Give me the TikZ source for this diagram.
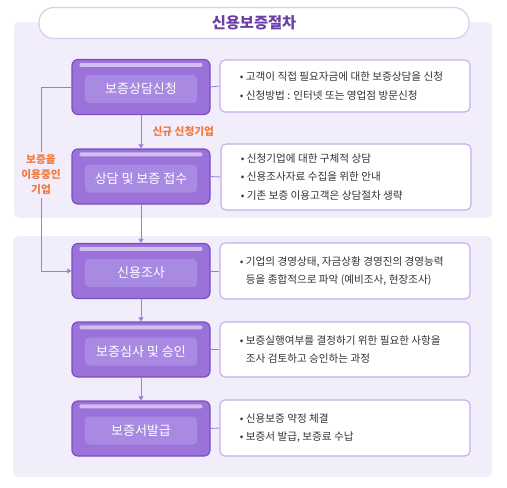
\documentclass[tikz,border=0pt]{standalone}
\usepackage{fontspec}
\setmainfont{Noto Sans CJK KR}
\usetikzlibrary{arrows.meta,calc}
\definecolor{panel}{HTML}{F2EDFB}
\definecolor{pillline}{HTML}{D9CCF2}
\definecolor{titlec}{HTML}{6B3FA8}
\definecolor{boxedge}{HTML}{7B4FC2}
\definecolor{boxfill}{HTML}{9A72DA}
\definecolor{boxinner}{HTML}{A98AE2}
\definecolor{rline}{HTML}{C4ADEB}
\definecolor{conn}{HTML}{9C7FD4}
\definecolor{orangec}{HTML}{F07A3C}
\definecolor{txt}{HTML}{333333}
\tikzset{
  stepbox/.style={draw=boxedge, line width=1.2pt, fill=boxfill, rounded corners=6pt, minimum width=138pt, minimum height=55pt, inner sep=0pt},
  innerbox/.style={fill=boxinner, rounded corners=4pt, minimum width=112pt, minimum height=28pt, inner sep=0pt, text=white, font=\fontsize{13}{15}\selectfont},
  descbox/.style={draw=rline, line width=1.1pt, fill=white, rounded corners=5pt, minimum width=250pt, minimum height=52pt, inner sep=0pt},
  desc/.style={anchor=west, text=txt, font=\fontsize{10.6}{18.5}\selectfont, align=left},
  conline/.style={draw=conn, line width=0.8pt},
  arr/.style={conline, -{Triangle[width=5pt,length=4pt]}},
  olabel/.style={text=orangec, font=\bfseries\fontsize{10.7}{13}\selectfont, align=center}
}
\begin{document}
\begin{tikzpicture}[x=1pt,y=-1pt]
\useasboundingbox (0,0) rectangle (507,488);
% panels
\fill[panel, rounded corners=6pt] (14,22) rectangle (492,218);
\fill[panel, rounded corners=6pt] (13,236) rectangle (492,477);
% title
\node[draw=pillline, line width=1.2pt, fill=white, rounded corners=15pt, minimum width=430pt, minimum height=31pt, text=titlec, font=\bfseries\fontsize{15.3}{17}\selectfont] (title) at (254,23) {신용보증절차};

% left step boxes
\foreach \n/\y/\t in {b1/87/보증상담신청, b2/176.5/상담 및 보증 접수, b3/271/신용조사, b4/349.5/보증심사 및 승인, b5/428.5/보증서발급}{
  \node[stepbox] (\n) at (141,\y) {};
  \fill[white, opacity=0.55, rounded corners=2pt] ($(\n.north west)+(8,4)$) rectangle ($(\n.north east)+(-8,8)$);
  \node[innerbox] (\n i) at (141,\y+2) {\t};
}

% right description boxes
\node[descbox, minimum height=52pt] (r1) at (345,86) {};
\node[desc] (d1) at ([xshift=17pt]r1.west) {• 고객이 직접 필요자금에 대한 보증상담을 신청\\• 신청방법 : 인터넷 또는 영업점 방문신청};
\node[descbox, minimum height=66pt] (r2) at (346,177) {};
\node[desc] (d2) at ([xshift=17pt]r2.west) {• 신청기업에 대한 구체적 상담\\• 신용조사자료 수집을 위한 안내\\• 기존 보증 이용고객은 상담절차 생략};
\node[descbox, minimum height=56pt] (r3) at (345,271) {};
\node[desc] (d3) at ([xshift=17pt]r3.west) {• 기업의 경영상태, 자금상황 경영진의 경영능력\\\phantom{• }등을 종합적으로 파악 (예비조사, 현장조사)};
\node[descbox, minimum height=55pt] (r4) at (345,349.5) {};
\node[desc] (d4) at ([xshift=17pt]r4.west) {• 보증실행여부를 결정하기 위한 필요한 사항을\\\phantom{• }조사 검토하고 승인하는 과정};
\node[descbox, minimum height=56pt] (r5) at (345,428) {};
\node[desc] (d5) at ([xshift=17pt]r5.west) {• 신용보증 약정 체결\\• 보증서 발급, 보증료 수납};

% horizontal connectors
\foreach \i in {1,...,5}{ \draw[conline] (b\i.east) -- (r\i.west); }

% vertical arrows
\draw[arr] (b1.south) -- (b2.north);
\node[olabel, anchor=west] (lab1) at (149,131) {신규 신청기업};
\draw[arr] (b2.south) -- (b3.north);
\draw[arr] (b3.south) -- (b4.north);
\draw[arr] (b4.south) -- (b5.north);

% left bypass path
\coordinate (c1) at (41,87);
\coordinate (c2) at (41,271);
\node[olabel, font=\bfseries\fontsize{10.7}{15}\selectfont] (lab2) at (41,175) {보증을\\이용중인\\기업};
\draw[conline] (b1.west) -- (c1) -- (lab2.north);
\draw[arr] (lab2.south) -- (c2) -- (b3.west);
\end{tikzpicture}
\end{document}
